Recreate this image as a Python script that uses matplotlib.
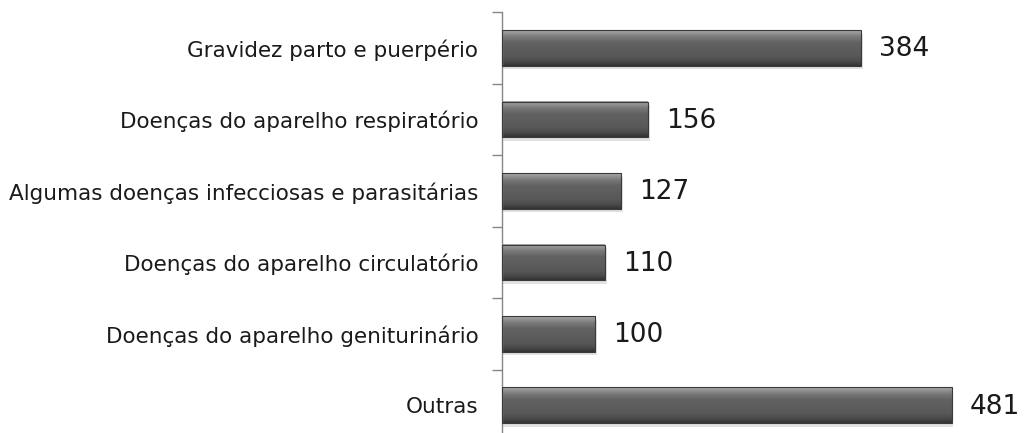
import matplotlib
matplotlib.use("Agg")
import matplotlib.pyplot as plt
import numpy as np
from matplotlib.colors import LinearSegmentedColormap

categories = [
    "Gravidez parto e puerpério",
    "Doenças do aparelho respiratório",
    "Algumas doenças infecciosas e parasitárias",
    "Doenças do aparelho circulatório",
    "Doenças do aparelho geniturinário",
    "Outras",
]
values = [384, 156, 127, 110, 100, 481]

plt.rcParams['font.family'] = ['DejaVu Sans']

fig = plt.figure(figsize=(10.32, 4.33), dpi=100)
ax = fig.add_axes([0.4864, -0.0185, 0.471, 0.990])

n = len(categories)
ys = np.arange(n)
bar_h = 0.5

cmap = LinearSegmentedColormap.from_list(
    "bev", [(0.0, "#a8a8a8"), (0.18, "#7a7a7a"), (0.35, "#626262"),
            (0.75, "#575757"), (0.88, "#4a4a4a"), (1.0, "#333333")])
grad = np.linspace(0, 1, 64).reshape(-1, 1)

for y, v in zip(ys, values):
    ax.add_patch(plt.Rectangle((0, y - bar_h / 2 + 0.05), v + 2, bar_h,
                               facecolor="#d0d0d0", edgecolor="none", zorder=1, alpha=0.6))
    ax.imshow(grad, cmap=cmap, aspect="auto", extent=(0, v, y + bar_h / 2, y - bar_h / 2),
              zorder=2, interpolation="bilinear")
    ax.add_patch(plt.Rectangle((0, y - bar_h / 2), v, bar_h, facecolor="none",
                               edgecolor="#3a3a3a", linewidth=0.8, zorder=3))
    ax.annotate(str(v), xy=(v, y), xytext=(13, -1), textcoords="offset points",
                ha="left", va="center", fontsize=19, color="#1a1a1a")

ax.set_xlim(0, 520)
ax.set_ylim(n - 0.5, -0.5)
ax.set_yticks(ys)
ax.set_yticklabels(categories, fontsize=15.5, color="#1a1a1a")
ax.set_yticks(np.arange(-0.5, n, 1.0), minor=True)
ax.tick_params(axis="y", which="major", length=0, pad=17)
ax.tick_params(axis="y", which="minor", length=7, color="#868686", width=1)
ax.set_xticks([])
for s in ["top", "right", "bottom"]:
    ax.spines[s].set_visible(False)
ax.spines["left"].set_color("#868686")
ax.spines["left"].set_linewidth(1)

fig.savefig("out.png", dpi=100)
